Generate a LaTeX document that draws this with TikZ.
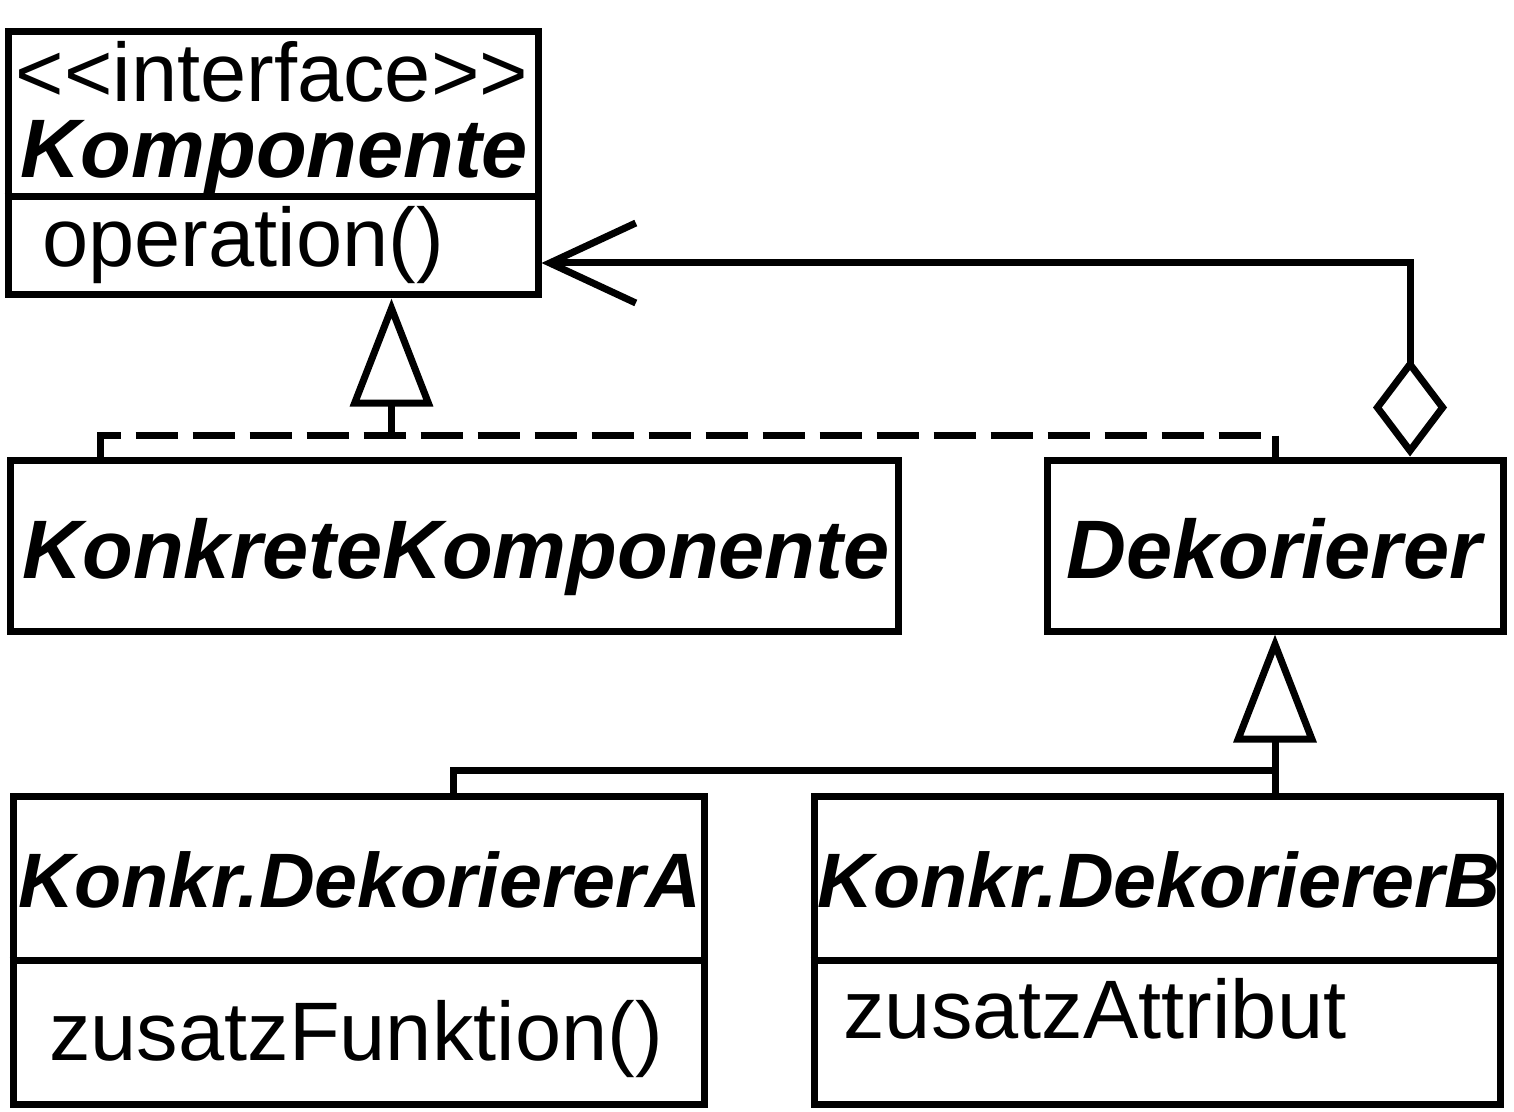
\documentclass[tikz,border=0pt]{standalone}
\usepackage{fontspec}
\setmainfont{Liberation Sans}
\usetikzlibrary{arrows.meta}

\tikzset{
  umlbox/.style={draw, line width=3.5pt, inner sep=0pt},
  umlline/.style={line width=3.5pt},
  umltext/.style={inner sep=0pt, font=\fontsize{41.5}{49}\selectfont},
  umlname/.style={inner sep=0pt, font=\fontsize{41.5}{49}\selectfont\bfseries\itshape},
  umlsmallname/.style={inner sep=0pt, font=\fontsize{38.6}{46}\selectfont\bfseries\itshape},
  realdash/.style={dash pattern=on 21pt off 7.5pt},
  gentip/.style={-{Triangle[open,length=54pt,width=41pt]}},
}

\begin{document}
\begin{tikzpicture}[x=0.5pt,y=0.5pt,yscale=-1]
\useasboundingbox (0,0) rectangle (1514,1112);

%Shape: Rectangle [Komponente]
\node[umlbox, minimum width=265pt, minimum height=131.75pt] (komp) at (273,163.25) {};
\draw[umlline] (komp.west |- 0,196.5) -- (komp.east |- 0,196.5);
% Text Node
\node[umltext, anchor=base] (kompstereo) at (272,102) {<{}<interface>{}>};
\node[umlname, anchor=base] (kompname) at (274.5,178) {Komponente};
\node[umltext, anchor=base west] (kompop) at (42,267) {operation()};

%Shape: Rectangle [KonkreteKomponente]
\node[umlbox, minimum width=444pt, minimum height=85.5pt] (kk) at (454,545.5) {};
\node[umlname, anchor=base] (kkname) at (456,578) {KonkreteKomponente};

%Shape: Rectangle [Dekorierer]
\node[umlbox, minimum width=228pt, minimum height=85.5pt] (dek) at (1275,545.5) {};
\node[umlname, anchor=base] (dekname) at (1274,578) {Dekorierer};

%Shape: Rectangle [Konkr.DekoriererA]
\node[umlbox, minimum width=345.5pt, minimum height=154pt] (kda) at (358.5,950) {};
\draw[umlline] (kda.west |- 0,960) -- (kda.east |- 0,960);
\node[umlsmallname, anchor=base] (kdaname) at (360,907) {Konkr.DekoriererA};
\node[umltext, anchor=base] (kdafunc) at (356,1060) {zusatzFunktion()};

%Shape: Rectangle [Konkr.DekoriererB]
\node[umlbox, minimum width=343pt, minimum height=154pt] (kdb) at (1157,950) {};
\draw[umlline] (kdb.west |- 0,960) -- (kdb.east |- 0,960);
\node[umlsmallname, anchor=base] (kdbname) at (1159,907) {Konkr.DekoriererB};
\node[umltext, anchor=base west] (kdbattr) at (843,1038) {zusatzAttribut};

%Straight Lines [realisation]
\coordinate (realjoin) at (391.5,435);
\coordinate (kkjoin) at (100,435);
\coordinate (dekjoin) at (dek.north |- realjoin);
\draw[umlline, realdash] (kk.north -| kkjoin) -- (kkjoin) -- (dekjoin) -- (dek.north);
\draw[umlline, gentip] (realjoin) -- (komp.south -| realjoin);

%Straight Lines [generalisation]
\coordinate (genjoin) at (dek.south |- 0,770);
\coordinate (kdajoin) at (453,770);
\draw[umlline] (kda.north -| kdajoin) -- (kdajoin) -- (genjoin);
\draw[umlline, gentip] (kdb.north -| genjoin) -- (dek.south);

%Straight Lines [aggregation]
\coordinate (assocbend) at (1410,263);
\draw[umlline, {Diamond[open,length=49pt,width=37pt]}-{Straight Barb[length=43pt,width=40pt]}]
  (dek.north -| assocbend) -- (assocbend) -- (komp.east |- assocbend);

\end{tikzpicture}
\end{document}
